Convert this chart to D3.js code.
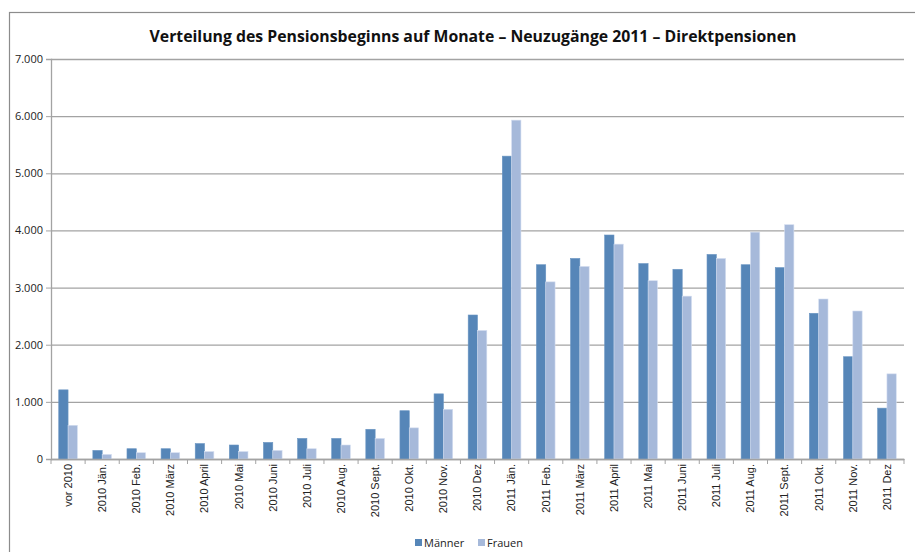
<!DOCTYPE html>
<html>
<head>
<meta charset="utf-8">
<script src="https://cdn.jsdelivr.net/npm/d3@7"></script>
<style>
  body { margin: 0; background: #fff; }
  svg { display: block; font-family: "Open Sans", "DejaVu Sans", sans-serif; }
</style>
</head>
<body>
<div id="chart"></div>
<script>
// categories (x axis)
var categories = ["vor 2010", "2010 Jän.", "2010 Feb.", "2010 März", "2010 April", "2010 Mai",
    "2010 Juni", "2010 Juli", "2010 Aug.", "2010 Sept.", "2010 Okt.", "2010 Nov.", "2010 Dez",
    "2011 Jän.", "2011 Feb.", "2011 März", "2011 April", "2011 Mai", "2011 Juni", "2011 Juli",
    "2011 Aug.", "2011 Sept.", "2011 Okt.", "2011 Nov.", "2011 Dez"];
var maenner = [1210, 150, 180, 180, 270, 245, 290, 360, 360, 520, 845, 1140, 2520,
    5300, 3400, 3510, 3920, 3420, 3320, 3580, 3400, 3350, 2550, 1790, 890];
var frauen = [590, 80, 110, 110, 130, 130, 150, 180, 245, 360, 545, 870, 2250,
    5930, 3100, 3370, 3760, 3120, 2850, 3510, 3970, 4100, 2800, 2590, 1490];
var seriesNames = ["Männer", "Frauen"];
var yTicks = [0, 1000, 2000, 3000, 4000, 5000, 6000, 7000];
var title = "Verteilung des Pensionsbeginns auf Monate \u2013 Neuzugänge 2011 \u2013 Direktpensionen";

var colors = ["#5686b8", "#a6b9da"];

var width = 915, height = 552;
var margin = { top: 59, right: 11, bottom: 93, left: 51 };
var innerW = width - margin.left - margin.right,
    innerH = height - margin.top - margin.bottom;

var svg = d3.select("#chart").append("svg")
    .attr("width", width).attr("height", height);

// outer chart frame (runs off the right/bottom edge like the original)
svg.append("rect")
    .attr("x", 9.5).attr("y", 12.5)
    .attr("width", 940).attr("height", 600)
    .attr("fill", "none").attr("stroke", "#8c8c8c").attr("stroke-width", 1.2);

svg.append("text")
    .attr("x", 473).attr("y", 42)
    .attr("text-anchor", "middle")
    .attr("font-size", "15.8px")
    .attr("font-weight", "bold")
    .attr("fill", "#111")
    .text(title);

var g = svg.append("g").attr("transform", "translate(" + margin.left + "," + margin.top + ")");

var x = d3.scaleBand().domain(categories).range([0, innerW]).padding(0);
var xSub = d3.scaleBand().domain([0, 1]).range([x.bandwidth() * 0.227, x.bandwidth() * 0.773]);
var y = d3.scaleLinear().domain([0, 7000]).range([innerH, 0]);

// gridlines
g.selectAll(".grid").data(yTicks).enter().append("line")
    .attr("x1", 0).attr("x2", innerW)
    .attr("y1", function (d) { return y(d) + 0.5; })
    .attr("y2", function (d) { return y(d) + 0.5; })
    .attr("stroke", "#a3a3a3").attr("stroke-width", 1.3);

// y axis
var yAxis = g.append("g")
    .call(d3.axisLeft(y).tickValues(yTicks).tickSize(5).tickPadding(3)
        .tickFormat(function (d) { return d3.format(",")(d).replace(/,/g, "."); }));
yAxis.select(".domain").attr("stroke", "#a3a3a3").attr("stroke-width", 1.3);
yAxis.selectAll(".tick line").attr("stroke", "#a3a3a3");
yAxis.selectAll("text").attr("font-size", "11px").attr("fill", "#222")
    .attr("font-family", "'Open Sans', sans-serif");

// bars
var series = [maenner, frauen];
series.forEach(function (vals, si) {
    g.selectAll(".bar" + si).data(vals).enter().append("rect")
        .attr("x", function (d, i) { return x(categories[i]) + xSub(si); })
        .attr("y", function (d) { return y(d); })
        .attr("width", xSub.bandwidth())
        .attr("height", function (d) { return innerH - y(d); })
        .attr("fill", colors[si])
        .attr("stroke", si === 1 ? "#d4def0" : "#6a95c2")
        .attr("stroke-width", 0.6);
});

// x axis
var xAxis = g.append("g")
    .attr("transform", "translate(0," + innerH + ")")
    .call(d3.axisBottom(x).tickSize(0).tickPadding(6));
xAxis.select(".domain").attr("stroke", "#a3a3a3").attr("stroke-width", 1.3);
xAxis.selectAll("text")
    .attr("font-size", "11px").attr("fill", "#222")
    .attr("transform", "rotate(-90)")
    .attr("text-anchor", "end")
    .attr("dy", "0.35em")
    .attr("x", -5).attr("y", 0);
// tick marks between categories
g.selectAll(".xtick").data(d3.range(categories.length + 1)).enter().append("line")
    .attr("x1", function (i) { return i * x.bandwidth(); })
    .attr("x2", function (i) { return i * x.bandwidth(); })
    .attr("y1", innerH).attr("y2", innerH + 5)
    .attr("stroke", "#a3a3a3");

// legend
var legend = svg.append("g").attr("transform", "translate(415,539)");
var lx = [0, 63];
seriesNames.forEach(function (name, i) {
    legend.append("rect").attr("x", lx[i]).attr("y", 0).attr("width", 7).attr("height", 7)
        .attr("fill", colors[i]);
    legend.append("text").attr("x", lx[i] + 9).attr("y", 7.5)
        .attr("font-size", "11px").attr("fill", "#222").text(name);
});
</script>
</body>
</html>
